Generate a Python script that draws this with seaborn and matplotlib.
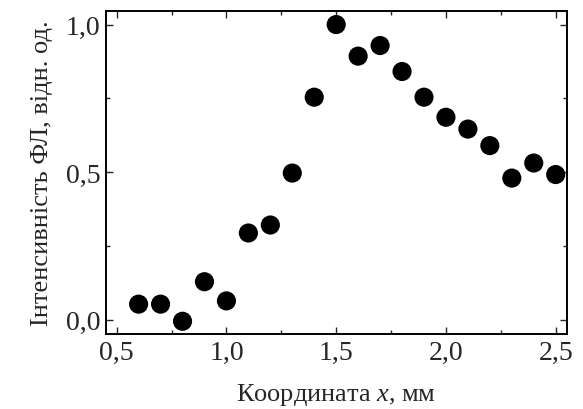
import matplotlib
matplotlib.use("Agg")
import matplotlib.pyplot as plt
from matplotlib.ticker import MultipleLocator, FuncFormatter
import pandas as pd
import seaborn as sns

# Data
coord_mm = [0.6, 0.7, 0.8, 0.9, 1.0, 1.1, 1.2, 1.3, 1.4, 1.5, 1.6,
            1.7, 1.8, 1.9, 2.0, 2.1, 2.2, 2.3, 2.4, 2.5]
intensity = [0.053, 0.053, -0.005, 0.129, 0.064, 0.294, 0.321, 0.497,
             0.754, 1.0, 0.893, 0.929, 0.841, 0.754, 0.686, 0.646,
             0.590, 0.480, 0.531, 0.492]

df = pd.DataFrame({"x": coord_mm, "y": intensity})

sns.set_style("ticks")
plt.rcParams["font.family"] = ["Liberation Serif", "DejaVu Serif"]
plt.rcParams["mathtext.fontset"] = "custom"
plt.rcParams["mathtext.rm"] = "Liberation Serif"
plt.rcParams["mathtext.it"] = "Liberation Serif:italic"

fig = plt.figure(figsize=(5.83, 4.10), dpi=100)
ax = fig.add_axes([0.1813, 0.183, 0.7907, 0.7885])

sns.scatterplot(data=df, x="x", y="y", color="black", s=190,
                edgecolor="none", ax=ax, legend=False)

ax.set_xlim(0.45, 2.55)
ax.set_ylim(-0.048, 1.047)

ax.xaxis.set_major_locator(MultipleLocator(0.5))
ax.xaxis.set_minor_locator(MultipleLocator(0.25))
ax.yaxis.set_major_locator(MultipleLocator(0.5))
ax.yaxis.set_minor_locator(MultipleLocator(0.25))

comma = FuncFormatter(lambda v, p: f"{v:.1f}".replace(".", ","))
ax.xaxis.set_major_formatter(comma)
ax.yaxis.set_major_formatter(comma)

ax.tick_params(which="both", direction="in", top=True, right=True,
               width=1.0, labelsize=20, pad=4)
ax.tick_params(which="major", length=5)
ax.tick_params(which="minor", length=3)

for sp in ax.spines.values():
    sp.set_linewidth(1.4)
    sp.set_color("black")

ax.set_xlabel("Координата $\\it{x}$, мм", fontsize=19, labelpad=12)
ax.set_ylabel("Інтенсивність ФЛ, відн. од.", fontsize=19, labelpad=9)

fig.savefig("out.png", dpi=100)
